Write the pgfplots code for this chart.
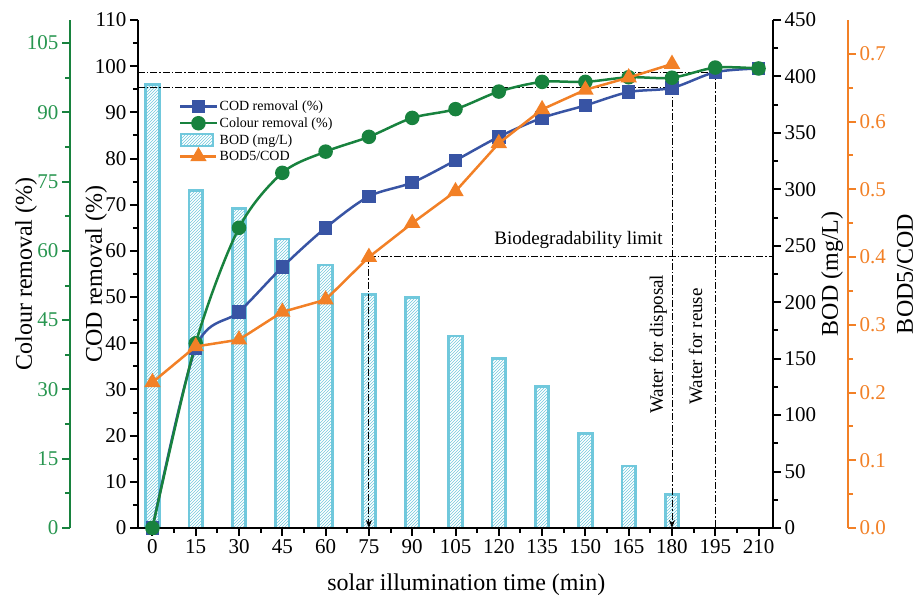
\documentclass[border=0pt]{standalone}
\usepackage{fontspec}
\setmainfont{Liberation Serif}
\usepackage{pgfplots}
\pgfplotsset{compat=1.18}
\usetikzlibrary{patterns,arrows.meta}
\definecolor{codblue}{RGB}{56,84,164}
\definecolor{colgreen}{RGB}{24,130,62}
\definecolor{colgreenlab}{RGB}{40,150,80}
\definecolor{borange}{RGB}{242,128,38}
\definecolor{bodcyan}{RGB}{112,200,220}
\pgfplotsset{base/.style={scale only axis, width=635pt, height=508pt, xmin=-5, xmax=215,
  tick align=outside, major tick length=8pt, minor tick length=5pt,
  /pgf/number format/assume math mode=true,
  tick label style={font=\fontsize{21}{24}\selectfont},
  label style={font=\fontsize{24}{28}\selectfont}}}
\tikzset{dd/.style={black, line width=0.9pt, dash pattern=on 7pt off 2pt on 1.5pt off 2pt}}
\begin{document}
\begin{tikzpicture}
\useasboundingbox (-138pt,-74pt) rectangle (781pt,528pt);
% BOD bars (right axis)
\begin{axis}[base, ymin=0, ymax=450, axis y line*=right, axis x line=none,
  ytick={0,50,...,450}, minor y tick num=1, ylabel={BOD (mg/L)},
  ylabel style={at={(axis description cs:1.093,0.5)}, anchor=center},
  axis line style={line width=2.5pt, black},
  every tick/.style={black, line width=2pt},
  ybar, bar width=13.5pt]
\addplot[draw=bodcyan, line width=2.8pt, pattern=north east lines, pattern color=bodcyan]
  coordinates {(0,393) (15,299) (30,283) (45,256) (60,233) (75,207) (90,204) (105,170) (120,150) (135,125) (150,84) (165,55) (180,30)};
\end{axis}
% Colour removal axis (green, left outer)
\begin{axis}[scale only axis, width=1pt, height=508pt, at={(-68pt,0)}, anchor=south west,
  xmin=0, xmax=1, ymin=0, ymax=110, axis y line*=left, axis x line=none,
  tick align=outside, major tick length=8pt, minor tick length=5pt,
  /pgf/number format/assume math mode=true,
  ytick={0,15,...,105}, minor y tick num=1,
  axis line style={colgreen, line width=2pt},
  every tick/.style={colgreen, line width=2pt},
  yticklabel style={colgreenlab, font=\fontsize{21}{24}\selectfont},
  ylabel={Colour removal (\%)},
  ylabel style={font=\fontsize{24}{28}\selectfont, at={(axis description cs:-44,0.5)}, anchor=center}]
\addplot[draw=none] coordinates {(0,0)};
\end{axis}
% BOD5/COD axis (orange, right outer)
\begin{axis}[scale only axis, width=1pt, height=508pt, at={(710pt,0)}, anchor=south east,
  xmin=0, xmax=1, ymin=0, ymax=0.75, axis y line*=right, axis x line=none,
  tick align=outside, major tick length=8pt, minor tick length=5pt,
  /pgf/number format/assume math mode=true,
  ytick={0,0.1,0.2,0.3,0.4,0.5,0.6,0.7}, minor y tick num=1,
  axis line style={borange, line width=2pt},
  every tick/.style={borange, line width=2pt},
  yticklabel style={borange, font=\fontsize{21}{24}\selectfont,
    /pgf/number format/fixed, /pgf/number format/fixed zerofill, /pgf/number format/precision=1},
  ylabel={BOD5/COD},
  ylabel style={font=\fontsize{24}{28}\selectfont, at={(axis description cs:58,0.5)}, anchor=center}]
\addplot[draw=none] coordinates {(0,0)};
\end{axis}
% Main COD axis
\begin{axis}[base, ymin=0, ymax=110, axis x line*=bottom, axis y line*=left,
  xtick={0,15,...,210}, minor x tick num=1, ytick={0,10,...,110}, minor y tick num=1,
  axis line style={line width=2.5pt, black},
  every tick/.style={black, line width=2pt},
  xlabel={solar illumination time (min)}, ylabel={COD removal (\%)},
  xlabel style={at={(axis description cs:0.517,0)}, anchor=center, yshift=-57pt},
  ylabel style={at={(axis description cs:-0.066,0.5)}, anchor=center},
  legend image code/.code={\draw[mark repeat=2,mark phase=2] plot coordinates {(0pt,0pt) (18pt,0pt) (36pt,0pt)};},
  legend style={at={(rel axis cs:0.063,0.847)}, anchor=north west, draw=none, fill=none,
    font=\fontsize{14}{17.5}\selectfont, inner sep=1pt, row sep=1.5pt},
  legend cell align=left]
\draw[dd] (axis cs:-5,98.7) -- (axis cs:195,98.7) -- (axis cs:195,0);
\draw[dd] (axis cs:-5,95.3) -- (axis cs:180,95.3);
\draw[dd, -{Stealth[length=8pt,width=6pt]}] (axis cs:180,95.3) -- (axis cs:180,0);
\draw[dd] (axis cs:75,58.7) -- (axis cs:215,58.7);
\draw[dd, -{Stealth[length=8pt,width=6pt]}] (axis cs:75,58.7) -- (axis cs:75,0);
\node[anchor=east, font=\fontsize{19}{22}\selectfont] at (axis cs:178,62.3) {Biodegradability limit};
\node[rotate=90, font=\fontsize{19}{22}\selectfont] at (axis cs:175.2,39.8) {Water for disposal};
\node[rotate=90, font=\fontsize{19}{22}\selectfont] at (axis cs:188.2,39.3) {Water for reuse};
\addplot[codblue, line width=2.5pt, smooth, mark=square*, mark size=5.5pt]
  coordinates {(0,0) (15,39) (30,46.8) (45,56.5) (60,65) (75,71.8) (90,74.8) (105,79.6) (120,84.7) (135,88.8) (150,91.5) (165,94.4) (180,95.3) (195,98.7) (210,99.5)};
\addlegendentry{COD removal (\%)}
\addplot[colgreen, line width=2.5pt, smooth, mark=*, mark size=6pt]
  coordinates {(0,0) (15,40) (30,65) (45,76.9) (60,81.5) (75,84.7) (90,88.8) (105,90.7) (120,94.5) (135,96.6) (150,96.6) (165,97.6) (180,97.5) (195,99.7) (210,99.5)};
\addlegendentry{Colour removal (\%)}
\addlegendimage{legend image code/.code={\draw[bodcyan, line width=2pt, pattern=north east lines, pattern color=bodcyan] (1pt,-6pt) rectangle (33pt,6pt);}}
\addlegendentry{BOD (mg/L)}
\addlegendimage{borange, line width=2.5pt, mark=triangle*, mark size=7pt}
\addlegendentry{BOD5/COD}
\end{axis}
% BOD5/COD data
\begin{axis}[base, ymin=0, ymax=0.75, hide axis]
\addplot[borange, line width=2.5pt, mark=triangle*, mark size=7pt]
  coordinates {(0,0.215) (15,0.268) (30,0.278) (45,0.319) (60,0.337) (75,0.400) (90,0.450) (105,0.497) (120,0.568) (135,0.618) (150,0.647) (165,0.665) (180,0.685)};
\end{axis}
\end{tikzpicture}
\end{document}
